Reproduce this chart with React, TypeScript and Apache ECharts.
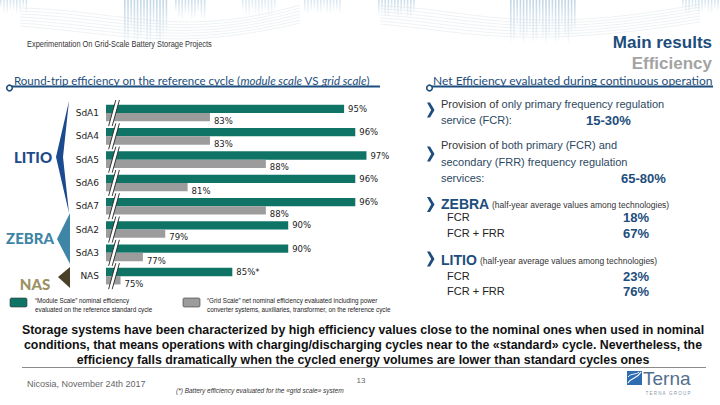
import React, { useEffect, useRef } from "react";
import * as echarts from "echarts";

const CATEGORIES = ["SdA1", "SdA4", "SdA5", "SdA6", "SdA7", "SdA2", "SdA3", "NAS"];
const MODULE_SCALE = [95, 96, 97, 96, 96, 90, 90, 85];
const MODULE_NOTES = ["", "", "", "", "", "", "", "*"];
const GRID_SCALE = [83, 83, 88, 81, 88, 79, 77, 75];
const AXIS_MIN = 73.7;
const AXIS_MAX = 100;

const SUMMARY_LINES = [
  "Storage systems have been characterized by high efficiency values close to the nominal ones when used in nominal",
  "conditions, that means operations with charging/discharging cycles near to the «standard» cycle. Nevertheless, the",
  "efficiency falls dramatically when the cycled energy volumes are lower than standard cycles ones",
];

const GREEN = "#0f7466";
const GRAY = "#9c9c9c";
const DARK_BLUE = "#1d4d7c";
const ARIAL = "'Liberation Sans', Arial, sans-serif";
const TITLE_FONT = "Lato, 'Open Sans', sans-serif";
const LABEL_FONT = "'DejaVu Sans', Verdana, sans-serif";

function measure(text: string, font: string) {
  const c = document.createElement("canvas").getContext("2d");
  if (!c) return text.length * 6;
  c.font = font;
  return c.measureText(text).width;
}

function stripes(x0: number, x1: number, y0: number, y1: number, op: number) {
  const out: any[] = [];
  for (let x = x0; x < x1; x += 3.2) {
    const h = (y1 - y0) * (0.55 + 0.45 * Math.abs(Math.sin(x * 0.7)));
    out.push({
      type: "rect",
      silent: true,
      shape: { x, y: y0, width: 1.6, height: h },
      style: {
        fill: new echarts.graphic.LinearGradient(0, 0, 0, 1, [
          { offset: 0, color: "rgba(170,200,220," + op + ")" },
          { offset: 1, color: "rgba(170,200,220,0.05)" },
        ]),
      },
    });
  }
  return out;
}

function txt(x: number, y: number, text: string, opts: any = {}) {
  return {
    type: "text",
    x,
    y,
    scaleX: opts.scaleX || 1,
    silent: true,
    style: {
      text,
      fontFamily: opts.fontFamily || ARIAL,
      fontSize: opts.fontSize || 11,
      fontWeight: opts.fontWeight || "normal",
      fontStyle: opts.fontStyle || "normal",
      fill: opts.fill || "#333",
      align: opts.align || "left",
      textAlign: opts.align || "left",
      verticalAlign: "middle",
      textVerticalAlign: "middle",
      rich: opts.rich,
    },
  };
}

function chevron(x: number, y: number, color: string) {
  return {
    type: "polygon",
    silent: true,
    shape: {
      points: [
        [x, y - 7.5],
        [x + 3, y - 7.5],
        [x + 7.5, y],
        [x + 3, y + 7.5],
        [x, y + 7.5],
        [x + 4.2, y],
      ],
    },
    style: { fill: color },
  };
}

export default function App() {
  const ref = useRef<HTMLDivElement>(null);

  useEffect(() => {
    if (!ref.current) return;
    const chart = echarts.init(ref.current, null, { renderer: "svg" });

    const waves: any[] = [];
    for (let i = 0; i < 7; i++) {
      waves.push({
        type: "bezierCurve",
        silent: true,
        shape: {
          x1: 20, y1: 8 + i * 3,
          cpx1: 120, cpy1: 10 + i * 4,
          cpx2: 180, cpy2: 40 + i * 2,
          x2: 300, y2: 5 + i * 3,
        },
        style: { stroke: "rgba(190,205,215,0.45)", lineWidth: 0.6, fill: "none" },
      });
      waves.push({
        type: "bezierCurve",
        silent: true,
        shape: {
          x1: 380, y1: 6 + i * 3,
          cpx1: 470, cpy1: 8 + i * 4,
          cpx2: 520, cpy2: 38 + i * 2,
          x2: 700, y2: 4 + i * 3,
        },
        style: { stroke: "rgba(190,205,215,0.45)", lineWidth: 0.6, fill: "none" },
      });
    }

    const boldFont = "bold 13.5px 'Liberation Sans', Arial, sans-serif";
    const sumScale = Math.min(1, 683 / measure(SUMMARY_LINES[0], boldFont));
    const headText = "Experimentation On Grid-Scale Battery Storage Projects";
    const headScale = Math.min(1, 185 / measure(headText, "9px 'Liberation Sans', Arial, sans-serif"));

    const graphic: any[] = [
      ...stripes(0, 28, 0, 14, 0.5),
      ...stripes(124, 168, 0, 46, 0.75),
      ...stripes(175, 204, 0, 20, 0.6),
      ...stripes(242, 276, 0, 16, 0.4),
      ...stripes(304, 340, 0, 14, 0.45),
      ...stripes(378, 416, 0, 18, 0.6),
      ...stripes(510, 576, 0, 44, 0.75),
      ...stripes(682, 720, 0, 14, 0.5),
      ...waves,
      txt(27, 44, headText, { fontSize: 9, fill: "#333", scaleX: headScale }),
      txt(712, 42, "Main results", { fontSize: 17, fontWeight: "bold", fill: DARK_BLUE, align: "right" }),
      txt(712, 63, "Efficiency", { fontSize: 17, fontWeight: "bold", fill: "#a3a3a3", align: "right" }),
      // section titles
      txt(14, 80, "{n|Round-trip efficiency on the reference cycle (}{i|module scale}{n| VS }{i|grid scale}{n|)}", {
        rich: {
          n: { fontFamily: TITLE_FONT, fontSize: 11.5, fill: DARK_BLUE },
          i: { fontFamily: TITLE_FONT, fontSize: 11.5, fill: DARK_BLUE, fontStyle: "italic" },
        },
      }),
      { type: "line", silent: true, shape: { x1: 9, y1: 86.5, x2: 380, y2: 86.5 }, style: { stroke: DARK_BLUE, lineWidth: 2.2 } },
      { type: "circle", silent: true, shape: { cx: 9.5, cy: 88, r: 2.8 }, style: { fill: "#fff", stroke: DARK_BLUE, lineWidth: 1.6 } },
      txt(433, 80, "Net Efficiency evaluated during continuous operation", { fontFamily: TITLE_FONT, fontSize: 12, fill: DARK_BLUE }),
      { type: "line", silent: true, shape: { x1: 429, y1: 86.5, x2: 713, y2: 86.5 }, style: { stroke: DARK_BLUE, lineWidth: 2.2 } },
      { type: "circle", silent: true, shape: { cx: 429.5, cy: 88, r: 2.8 }, style: { fill: "#fff", stroke: DARK_BLUE, lineWidth: 1.6 } },
      // group brackets
      txt(33, 157, "LITIO", { fontSize: 15, fontWeight: 900, fill: "#1f4a8a", align: "center", fontFamily: TITLE_FONT }),
      {
        type: "polygon", silent: true,
        shape: { points: [[69, 101], [56, 157], [69, 213], [63, 157]] },
        style: { fill: "#1c4a8e" },
      },
      txt(30, 238, "ZEBRA", { fontSize: 15, fontWeight: 900, fill: "#3e85a6", align: "center", fontFamily: TITLE_FONT }),
      {
        type: "polygon", silent: true,
        shape: { points: [[70, 213], [57, 239], [70, 264]] },
        style: { fill: "#3e85a6" },
      },
      txt(35, 284, "NAS", { fontSize: 15, fontWeight: 900, fill: "#9a9164", align: "center", fontFamily: TITLE_FONT }),
      {
        type: "polygon", silent: true,
        shape: { points: [[70, 267], [58, 277], [70, 288]] },
        style: { fill: "#4a3f28" },
      },
      // legend
      { type: "rect", silent: true, shape: { x: 10, y: 298, width: 17, height: 9, r: 1.5 }, style: { fill: GREEN, stroke: "#333", lineWidth: 0.6 } },
      txt(35, 300, "“Module Scale” nominal efficiency", { fontSize: 6.3, fill: "#222" }),
      txt(35, 309, "evaluated on the reference standard cycle", { fontSize: 6.3, fill: "#222" }),
      { type: "rect", silent: true, shape: { x: 183, y: 298, width: 17, height: 9, r: 1.5 }, style: { fill: GRAY, stroke: "#333", lineWidth: 0.6 } },
      txt(207, 300, "“Grid Scale” net nominal efficiency evaluated including power", { fontSize: 6.3, fill: "#222" }),
      txt(207, 309, "converter systems, auxiliaries, transformer, on the reference cycle", { fontSize: 6.3, fill: "#222" }),
      // right panel
      chevron(427, 110, DARK_BLUE),
      txt(441, 104, "{a|Provision of }{b|only primary frequency regulation}", {
        rich: { a: { fontFamily: ARIAL, fontSize: 11, fill: "#333" }, b: { fontFamily: ARIAL, fontSize: 11, fill: "#2c4862" } },
      }),
      txt(441, 120, "service (FCR):", { fontSize: 11, fill: "#2c4862" }),
      txt(586, 120, "15-30%", { fontSize: 13, fontWeight: "bold", fill: DARK_BLUE }),
      chevron(427, 154, DARK_BLUE),
      txt(441, 145, "{a|Provision of }{b|both primary (FCR) and}", {
        rich: { a: { fontFamily: ARIAL, fontSize: 11, fill: "#333" }, b: { fontFamily: ARIAL, fontSize: 11, fill: "#2c4862" } },
      }),
      txt(441, 162, "secondary (FRR) frequency regulation", { fontSize: 11, fill: "#2c4862" }),
      txt(441, 178, "services:", { fontSize: 11, fill: "#2c4862" }),
      txt(621, 178, "65-80%", { fontSize: 13, fontWeight: "bold", fill: DARK_BLUE }),
      chevron(427, 204.5, DARK_BLUE),
      txt(441, 204, "ZEBRA", { fontSize: 14, fontWeight: "bold", fill: DARK_BLUE }),
      txt(492, 205, "(half-year average values among technologies)", { fontSize: 8.5, fill: "#333" }),
      txt(447, 217, "FCR", { fontSize: 11, fill: "#222" }),
      txt(623, 217, "18%", { fontSize: 13, fontWeight: "bold", fill: DARK_BLUE }),
      txt(447, 233, "FCR + FRR", { fontSize: 11, fill: "#222" }),
      txt(623, 233, "67%", { fontSize: 13, fontWeight: "bold", fill: DARK_BLUE }),
      chevron(427, 259, DARK_BLUE),
      txt(441, 260, "LITIO", { fontSize: 14, fontWeight: "bold", fill: DARK_BLUE }),
      txt(480, 261, "(half-year average values among technologies)", { fontSize: 8.5, fill: "#333" }),
      txt(447, 276, "FCR", { fontSize: 11, fill: "#222" }),
      txt(623, 276, "23%", { fontSize: 13, fontWeight: "bold", fill: DARK_BLUE }),
      txt(447, 291, "FCR + FRR", { fontSize: 11, fill: "#222" }),
      txt(623, 291, "76%", { fontSize: 13, fontWeight: "bold", fill: DARK_BLUE }),
      // bottom paragraph
      ...SUMMARY_LINES.map((line, i) =>
        txt(363, 329 + i * 15, line, { fontSize: 13.5, fontWeight: "bold", fill: "#111", align: "center", scaleX: sumScale })
      ),
      { type: "line", silent: true, shape: { x1: 22, y1: 367.5, x2: 706, y2: 367.5 }, style: { stroke: "#8a8a8a", lineWidth: 1 } },
      txt(27, 384, "Nicosia, November 24th 2017", { fontSize: 9, fill: "#666" }),
      txt(361, 380, "13", { fontSize: 8, fill: "#666", align: "center" }),
      txt(176, 390, "(*) Battery efficiency evaluated for the «grid scale» system", { fontSize: 6.5, fill: "#333", fontStyle: "italic" }),
      // Terna logo
      { type: "rect", silent: true, shape: { x: 627, y: 371, width: 15, height: 14 }, style: { fill: "#2f6db3" } },
      {
        type: "bezierCurve", silent: true,
        shape: { x1: 628, y1: 383, cpx1: 633, cpy1: 376, cpx2: 636, cpy2: 380, x2: 641, y2: 372 },
        style: { stroke: "#fff", lineWidth: 1.2, fill: "none" },
      },
      {
        type: "bezierCurve", silent: true,
        shape: { x1: 628, y1: 377, cpx1: 631, cpy1: 373, cpx2: 636, cpy2: 375, x2: 639, y2: 372 },
        style: { stroke: "#fff", lineWidth: 0.9, fill: "none" },
      },
      txt(643, 378.5, "Terna", { fontSize: 19, fill: "#52708f" }),
      txt(668, 393, "T E R N A   G R O U P", { fontSize: 4.5, fill: "#8a98a8", align: "center" }),
    ];

    chart.setOption({
      animation: false,
      backgroundColor: "#ffffff",
      grid: { left: 106, top: 101.4, height: 186.4, width: 294, containLabel: false },
      xAxis: { type: "value", min: AXIS_MIN, max: AXIS_MAX, show: false },
      yAxis: {
        type: "category",
        data: CATEGORIES,
        inverse: true,
        axisLine: { show: false },
        axisTick: { show: false },
        axisLabel: { margin: 7, fontFamily: LABEL_FONT, fontSize: 9, color: "#222" },
      },
      series: [
        {
          name: "Module Scale",
          type: "bar",
          data: MODULE_SCALE,
          barWidth: 8.3,
          barGap: "0%",
          itemStyle: { color: GREEN },
          label: {
            show: true,
            position: "right",
            distance: 4,
            fontFamily: LABEL_FONT,
            fontSize: 8.5,
            color: "#222",
            formatter: (p: any) => p.value + "%" + MODULE_NOTES[p.dataIndex],
          },
        },
        {
          name: "Grid Scale",
          type: "bar",
          data: GRID_SCALE,
          barWidth: 8.3,
          barGap: "0%",
          itemStyle: { color: GRAY },
          label: {
            show: true,
            position: "right",
            distance: 4,
            offset: [0, 3.5],
            fontFamily: LABEL_FONT,
            fontSize: 8.5,
            color: "#222",
            formatter: (p: any) => p.value + "%",
          },
        },
        {
          name: "break",
          type: "custom",
          clip: false,
          silent: true,
          z: 5,
          data: CATEGORIES.map((c) => [AXIS_MIN, c]),
          renderItem: (params: any, api: any) => {
            const pt = api.coord([api.value(0), api.value(1)]);
            const cx = pt[0] + 8;
            const cy = pt[1];
            const h = 13;
            const s = 3.6;
            const g = 1.8;
            return {
              type: "group",
              children: [
                {
                  type: "polygon",
                  shape: {
                    points: [
                      [cx - g - s, cy + h],
                      [cx + g - s, cy + h],
                      [cx + g + s, cy - h],
                      [cx - g + s, cy - h],
                    ],
                  },
                  style: { fill: "#fff" },
                },
                {
                  type: "line",
                  shape: { x1: cx - g - s, y1: cy + h, x2: cx - g + s, y2: cy - h },
                  style: { stroke: "#222", lineWidth: 0.9 },
                },
                {
                  type: "line",
                  shape: { x1: cx + g - s, y1: cy + h, x2: cx + g + s, y2: cy - h },
                  style: { stroke: "#222", lineWidth: 0.9 },
                },
              ],
            };
          },
        },
      ],
      graphic,
    });

    return () => chart.dispose();
  }, []);

  return (
    <div
      ref={ref}
      style={{ position: "fixed", left: 0, top: 0, width: 720, height: 405, background: "#fff" }}
    />
  );
}
